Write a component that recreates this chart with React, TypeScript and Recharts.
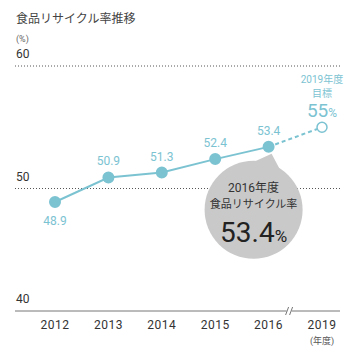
import { LineChart, Line, XAxis, YAxis, ReferenceLine, LabelList } from "recharts";

const years = ["2012", "2013", "2014", "2015", "2016", "2019"];
const actualRate = [48.9, 50.9, 51.3, 52.4, 53.4, null];
const targetRate = [null, null, null, null, 53.4, 55];
const yTicks = [60, 50];

const data = years.map((year, i) => ({ year, actual: actualRate[i], target: targetRate[i] }));

const TEAL = "#7cc3d2";
const FONT = "Roboto, 'Noto Sans CJK JP', sans-serif";

const GridLabel = ({ viewBox, value }: any) => (
  <text x={viewBox.x + 1} y={viewBox.y - 8} fontSize={12} fill="#333" fontFamily={FONT}>
    {value}
  </text>
);

const YearTick = ({ x, y, payload, index }: any) => (
  <g>
    <text x={x} y={y + 10} textAnchor="middle" fontSize={12} fill="#333" fontFamily={FONT} letterSpacing={0.5}>
      {payload.value}
    </text>
    {payload.value === "2019" && (
      <text x={x} y={y + 25} textAnchor="middle" fontSize={9} fill="#555" fontFamily={FONT}>
        (年度)
      </text>
    )}
    {index === 4 && (
      <g transform={`translate(0, ${-8})`}>
        <rect x={x + 18} y={y - 5} width={5} height={10} fill="#fff" />
        <line x1={x + 17} y1={y + 4} x2={x + 20} y2={y - 4} stroke="#777" />
        <line x1={x + 21} y1={y + 4} x2={x + 24} y2={y - 4} stroke="#777" />
      </g>
    )}
  </g>
);

const ValueLabel = ({ x, y, value, index }: any) => {
  if (value == null) return null;
  if (index === 4) {
    const cx = x - 15;
    const cy = y + 63;
    const r = 49;
    return (
      <g>
        <path
          d={`M ${cx - 4} ${cy - r + 3} L ${x + 3} ${y + 7} L ${cx + 27} ${cy - r + 10} Z`}
          fill="#c9c9c9"
        />
        <circle cx={cx} cy={cy} r={r} fill="#c9c9c9" />
        <text x={cx} y={cy - 18} textAnchor="middle" fontSize={12} fill="#333" fontFamily={FONT}>
          2016年度
        </text>
        <text x={cx} y={cy - 2} textAnchor="middle" fontSize={11} fill="#333" fontFamily={FONT}>
          食品リサイクル率
        </text>
        <text x={cx} y={cy + 32} textAnchor="middle" fill="#222" fontFamily={FONT}>
          <tspan fontSize={28}>53.4</tspan>
          <tspan fontSize={17}>%</tspan>
        </text>
        <text x={x} y={y - 12} textAnchor="middle" fontSize={12} fill={TEAL} fontFamily={FONT}>
          {value}
        </text>
      </g>
    );
  }
  const below = index === 0;
  return (
    <text x={x} y={below ? y + 23 : y - 12} textAnchor="middle" fontSize={12} fill={TEAL} fontFamily={FONT}>
      {value}
    </text>
  );
};

const TargetLabel = ({ x, y, index }: any) => {
  if (index !== 5) return null;
  return (
    <g fontFamily={FONT} fill={TEAL} textAnchor="middle">
      <text x={x} y={y - 44} fontSize={10}>2019年度</text>
      <text x={x} y={y - 30} fontSize={10}>目標</text>
      <text x={x} y={y - 10}>
        <tspan fontSize={19}>55</tspan>
        <tspan fontSize={12}>%</tspan>
      </text>
    </g>
  );
};

const TargetDot = ({ cx, cy, index }: any) =>
  index === 5 ? <circle key={index} cx={cx} cy={cy} r={5} fill="#fff" stroke={TEAL} strokeWidth={1.5} /> : <g key={index} />;

export default function App() {
  return (
    <div style={{ position: "absolute", left: 0, top: 0, width: 360, height: 358, background: "#fff" }}>
      <div style={{ position: "absolute", left: 16, top: 9, fontSize: 12, color: "#444", fontFamily: FONT }}>
        食品リサイクル率推移
      </div>
      <div style={{ position: "absolute", left: 16, top: 34, fontSize: 9, color: "#666", fontFamily: FONT }}>(%)</div>
      <LineChart width={360} height={358} data={data} margin={{ top: 66, right: 20, bottom: 17, left: 15 }}>
        <YAxis hide domain={[40, 60]} />
        <XAxis
          dataKey="year"
          height={30}
          padding={{ left: 40, right: 18 }}
          axisLine={{ stroke: "#777" }}
          tickLine={false}
          tick={<YearTick />}
          interval={0}
        />
        {yTicks.map((t) => (
          <ReferenceLine key={t} y={t} stroke="#555" strokeDasharray="1 2" label={<GridLabel value={t} />} />
        ))}
        <ReferenceLine y={40} stroke="none" label={<GridLabel value={40} />} />
        <Line
          dataKey="actual"
          stroke={TEAL}
          strokeWidth={2}
          dot={{ r: 5, fill: TEAL, stroke: TEAL }}
          isAnimationActive={false}
        >
          <LabelList dataKey="actual" content={<ValueLabel />} />
        </Line>
        <Line
          dataKey="target"
          stroke={TEAL}
          strokeWidth={2}
          strokeDasharray="4 3"
          dot={<TargetDot />}
          activeDot={false}
          isAnimationActive={false}
        >
          <LabelList dataKey="target" content={<TargetLabel />} />
        </Line>
      </LineChart>
    </div>
  );
}
